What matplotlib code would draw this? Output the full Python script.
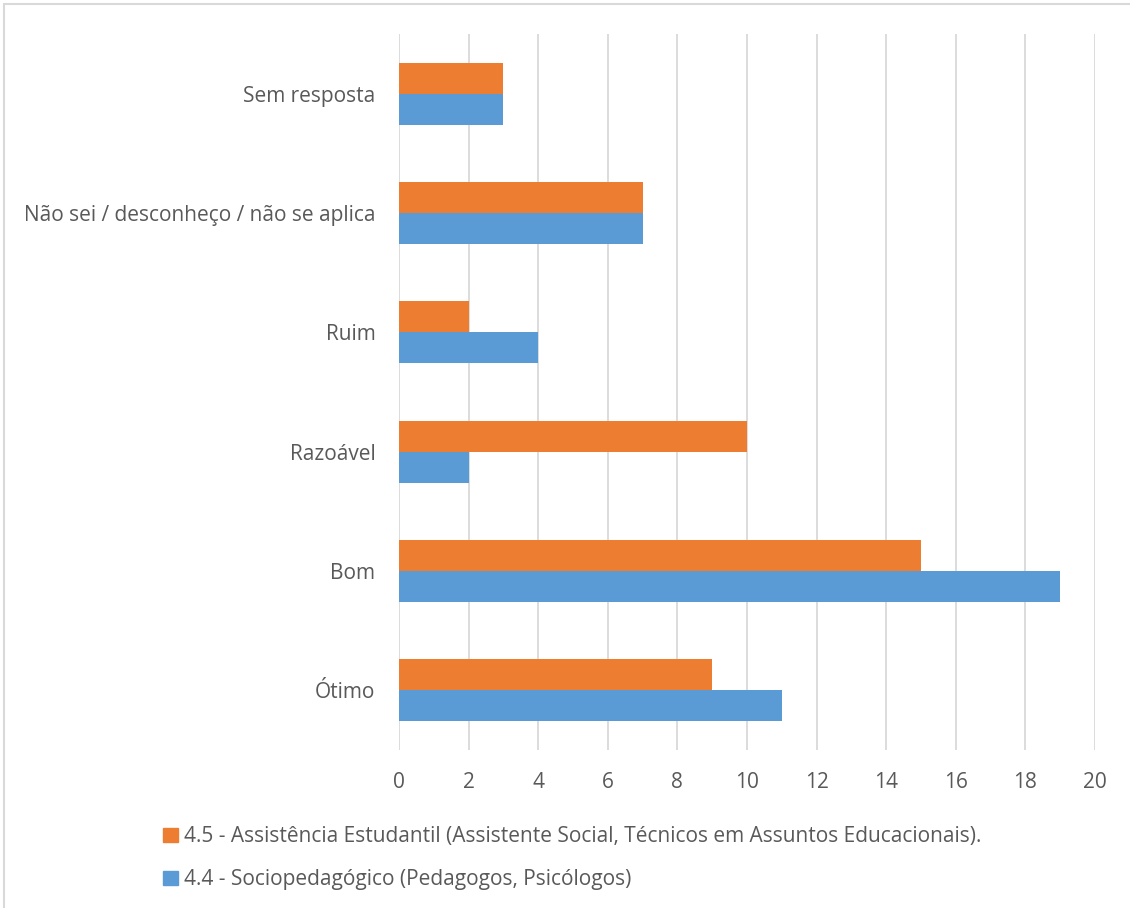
import numpy as np
import matplotlib.pyplot as plt
from matplotlib.patches import Rectangle, Patch

# categories from bottom to top
categories = ['Ótimo', 'Bom', 'Razoável', 'Ruim', 'Não sei / desconheço / não se aplica', 'Sem resposta']
assist_estudantil = [9, 15, 10, 2, 7, 3]   # 4.5
sociopedagogico = [11, 19, 2, 4, 7, 3]     # 4.4
xticks = list(range(0, 21, 2))

orange = '#ED7D31'
blue = '#5B9BD5'
grid_c = '#D9D9D9'
text_c = '#595959'

plt.rcParams['font.family'] = ['Open Sans', 'DejaVu Sans']

fig = plt.figure(figsize=(11.3, 9.08), dpi=100)
ax = fig.add_axes([399 / 1130, 1 - 750 / 908, 696 / 1130, 716 / 908])

y = np.arange(len(categories))
h = 0.26
ax.barh(y + h / 2, assist_estudantil, height=h, color=orange, zorder=3)
ax.barh(y - h / 2, sociopedagogico, height=h, color=blue, zorder=3)

ax.set_xlim(0, 20)
ax.set_ylim(-0.5, len(categories) - 0.5)
ax.set_xticks(xticks)
ax.set_yticks(y)
ax.set_yticklabels(categories)
ax.tick_params(axis='both', length=0, labelsize=15, colors=text_c)
ax.tick_params(axis='x', pad=16)
ax.tick_params(axis='y', pad=17)
ax.grid(axis='x', color=grid_c, linewidth=1.3, zorder=0)
for s in ax.spines.values():
    s.set_visible(False)

# legend
handles = [Patch(color=orange, label='4.5 - Assistência Estudantil (Assistente Social, Técnicos em Assuntos Educacionais).'),
           Patch(color=blue, label='4.4 - Sociopedagógico (Pedagogos, Psicólogos)')]
leg = fig.legend(handles=handles, loc='upper left', bbox_to_anchor=(155 / 1130, 1 - 818 / 908),
                 frameon=False, fontsize=15, handlelength=0.7, handleheight=0.7,
                 handletextpad=0.3, labelspacing=1.05, borderaxespad=0)
for t in leg.get_texts():
    t.set_color(text_c)

# chart border
fig.patches.append(Rectangle((4 / 1130, -0.1), 1.2, 1 - 4 / 908 + 0.1, transform=fig.transFigure,
                             fill=False, edgecolor=grid_c, linewidth=1.5))

fig.savefig('out.png', dpi=100)
